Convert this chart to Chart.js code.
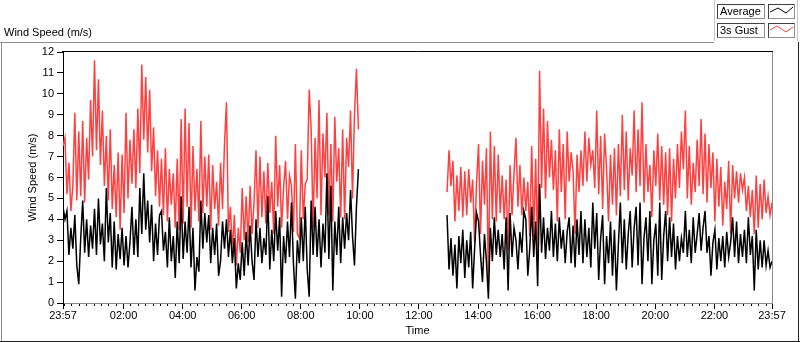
<!DOCTYPE html>
<html>
<head>
<meta charset="utf-8">
<script src="https://cdn.jsdelivr.net/npm/chart.js@4.4.1/dist/chart.umd.min.js"></script>
<style>
  body { margin: 0; background: #fff; font-family: "Liberation Sans", Arial, sans-serif; font-size: 11px; color: #000; }
  #wrap { position: relative; width: 800px; height: 342px; overflow: hidden; }
  #wrap canvas { position: absolute; left: 0; top: 0; }
  .line { position: absolute; }
  .panel-title { position: absolute; left: 4px; top: 26px; line-height: 13px; white-space: nowrap; }
  .legend { position: absolute; left: 714px; top: 0; width: 82px; height: 41px; border-left: 1px solid #c8c8c8; border-right: 1px solid #c8c8c8; }
  .lg-label { position: absolute; left: 2px; width: 44px; height: 13px; border: 1px solid #404040; border-right-color: #909090; border-bottom-color: #909090; line-height: 13px; padding-left: 2px; box-sizing: content-box; white-space: nowrap; }
  .lg-swatch { position: absolute; left: 53px; width: 25px; height: 13px; border: 1px solid #404040; border-right-color: #909090; border-bottom-color: #909090; }
</style>
</head>
<body>
<div id="wrap">
  <canvas id="line-chart" width="800" height="342"></canvas>
  <div class="line" style="left:0;top:42px;width:714px;height:1px;background:#8c8c8c"></div>
  <div class="line" style="left:1px;top:42px;width:1px;height:300px;background:#8c8c8c"></div>
  <div class="line" style="left:0;top:341px;width:800px;height:1px;background:#202020"></div>
  <div class="line" style="left:798px;top:42px;width:1px;height:300px;background:#202020"></div>
  <div class="panel-title">Wind Speed (m/s)</div>
  <div class="legend">
    <div class="lg-label" style="top:4px">Average</div>
    <div class="lg-swatch" style="top:4px"><svg width="25" height="13"><polyline points="1,7 9,3 17,8 24,2" fill="none" stroke="#000" stroke-width="1"/></svg></div>
    <div class="lg-label" style="top:23px">3s Gust</div>
    <div class="lg-swatch" style="top:23px"><svg width="25" height="13"><polyline points="1,6 8,2 17,8 24,3" fill="none" stroke="#ff4040" stroke-width="1"/></svg></div>
  </div>
</div>
<script>
// minutes after 23:57 of the previous day, one sample every 4 minutes
const sampleStep = 4;
const morningStart = 0;      // 23:57
const afternoonStart = 780;  // 12:57

const avgMorning = [
  4.6, 4.0, 4.4, 2.3, 3.6, 2.6, 4.2, 1.8, 0.9, 3.1,
  4.9, 2.4, 4.0, 2.2, 3.7, 2.6, 4.5, 2.3, 5.0, 2.8,
  3.8, 2.0, 5.5, 2.9, 4.3, 1.7, 3.9, 1.6, 3.3, 2.1,
  3.6, 1.8, 3.2, 1.7, 2.9, 4.6, 2.3, 4.0, 2.2, 5.5,
  3.3, 6.2, 3.5, 4.9, 2.9, 4.7, 2.0, 3.8, 2.3, 4.2,
  4.4, 2.5, 3.4, 1.7, 4.1, 2.0, 3.2, 1.2, 3.9, 1.9,
  5.1, 2.1, 3.9, 2.4, 4.6, 1.7, 3.6, 0.6, 2.2, 1.5,
  4.9, 2.6, 4.3, 2.9, 4.2, 1.9, 3.6, 2.3, 3.8, 1.3,
  2.0, 3.9, 2.6, 4.0, 2.2, 3.5, 1.9, 3.1, 0.7, 1.9,
  1.1, 2.9, 1.3, 3.4, 1.8, 3.7, 2.0, 1.1, 4.0, 2.2,
  3.6, 1.9, 3.1, 2.3, 5.1, 1.6, 3.5, 2.0, 4.4, 2.5,
  4.1, 0.3, 3.2, 1.9, 3.9, 2.2, 4.8, 1.9, 0.2, 3.0,
  1.9, 4.1, 2.0, 4.6, 1.6, 0.3, 4.9, 2.3, 4.6, 2.2,
  4.0, 1.7, 3.8, 2.4, 6.2, 2.1, 5.6, 0.6, 3.9, 2.3,
  4.6, 1.9, 4.1, 2.6, 4.3, 3.0, 5.4, 3.2, 1.8, 4.6, 6.4
];

const gustMorning = [
  7.5, 7.9, 5.2, 6.7, 4.4, 5.6, 9.1, 4.9, 8.2, 5.1,
  8.7, 4.8, 7.9, 5.9, 9.7, 7.0, 11.6, 7.3, 10.7, 6.6,
  9.2, 5.6, 8.0, 4.9, 8.3, 4.5, 6.6, 4.1, 7.2, 3.5,
  7.1, 4.3, 9.1, 5.0, 7.8, 5.7, 8.3, 5.5, 9.3, 6.2,
  11.4, 7.8, 10.8, 7.2, 10.2, 6.3, 8.4, 5.1, 7.3, 4.6,
  6.9, 4.2, 7.4, 3.9, 6.4, 4.7, 6.2, 3.6, 6.9, 3.5,
  8.8, 3.8, 9.3, 4.6, 8.6, 3.6, 7.5, 4.4, 6.4, 3.9,
  8.7, 4.3, 7.0, 4.6, 7.1, 3.5, 6.6, 4.5, 5.8, 3.7,
  6.7, 4.5, 7.6, 9.6, 3.4, 4.6, 2.5, 4.2, 1.8, 3.6,
  2.4, 5.5, 3.0, 5.1, 2.9, 5.6, 3.3, 4.8, 7.3, 3.6,
  7.0, 4.1, 6.3, 3.8, 6.7, 4.3, 5.8, 3.3, 8.0, 4.6,
  6.6, 3.6, 5.5, 6.8, 4.0, 6.1, 5.6, 3.4, 7.6, 3.3,
  3.1, 7.3, 4.0, 5.7, 5.9, 10.2, 8.3, 3.6, 7.9, 5.0,
  9.7, 4.2, 8.1, 6.0, 9.1, 4.2, 7.6, 3.9, 8.9, 5.8,
  7.4, 4.1, 8.3, 4.0, 7.9, 6.5, 9.2, 5.0, 9.0, 11.2, 8.3
];

const avgAfternoon = [
  4.2, 1.6, 3.1, 1.3, 2.8, 0.7, 3.2, 1.9, 3.5, 1.2,
  3.0, 1.7, 3.4, 0.7, 2.6, 4.3, 3.9, 2.3, 1.0, 3.3,
  2.0, 0.2, 3.6, 2.0, 4.1, 2.3, 3.5, 2.2, 3.3, 1.6,
  4.1, 0.6, 4.3, 2.2, 3.6, 3.0, 1.6, 3.4, 2.4, 4.4,
  4.0, 1.3, 2.6, 4.6, 2.2, 3.9, 0.8, 5.7, 2.4, 4.1,
  2.1, 3.6, 2.5, 4.4, 2.2, 3.8, 2.0, 4.1, 2.6, 3.5,
  1.9, 3.4, 4.1, 1.9, 3.7, 1.7, 4.0, 2.3, 4.4, 1.9,
  4.0, 2.2, 3.6, 1.7, 4.8, 2.6, 4.3, 1.1, 3.1, 4.2,
  0.9, 3.2, 1.9, 3.9, 1.3, 3.5, 0.6, 2.8, 4.8, 1.9,
  4.0, 1.6, 3.3, 4.4, 1.7, 3.6, 4.6, 1.8, 4.8, 0.9,
  3.1, 4.1, 2.0, 4.4, 0.9, 3.0, 3.8, 1.3, 4.8, 1.1,
  3.2, 4.4, 2.0, 4.1, 2.2, 3.8, 1.6, 3.2, 2.0, 3.1,
  2.4, 4.4, 2.2, 3.5, 1.9, 4.1, 2.4, 3.3, 4.3, 2.5,
  3.6, 4.4, 2.4, 3.2, 1.3, 2.9, 3.5, 1.6, 3.1, 2.0,
  3.2, 1.7, 3.4, 2.2, 2.9, 4.1, 2.2, 3.9, 1.9, 3.3,
  2.2, 3.5, 1.9, 4.1, 2.3, 3.2, 0.6, 3.5, 1.6, 3.0,
  1.7, 3.0, 1.8, 2.5, 1.7, 2.0
];

const gustAfternoon = [
  5.3, 7.3, 5.6, 6.8, 3.9, 6.1, 4.4, 6.5, 4.1, 6.3,
  4.2, 6.4, 4.8, 5.9, 2.9, 5.8, 7.6, 3.3, 6.8, 4.7,
  7.4, 1.1, 8.2, 4.0, 7.5, 3.9, 7.1, 4.3, 6.1, 4.0,
  5.9, 2.5, 6.6, 4.2, 6.2, 7.9, 4.6, 6.6, 4.2, 6.0,
  4.4, 5.8, 3.2, 7.5, 3.1, 6.9, 2.3, 11.1, 5.5, 9.3,
  5.0, 8.7, 6.0, 7.8, 5.4, 7.3, 3.9, 8.3, 5.3, 7.6,
  4.0, 8.2, 5.8, 7.2, 6.3, 3.3, 7.1, 5.3, 7.3, 5.6,
  8.2, 5.8, 7.9, 6.6, 7.3, 5.5, 9.2, 5.2, 8.0, 4.5,
  8.1, 6.4, 3.9, 7.1, 4.7, 7.4, 4.2, 7.6, 5.1, 9.0,
  5.4, 8.2, 4.9, 7.4, 6.1, 9.2, 5.3, 8.3, 5.6, 9.6,
  4.8, 7.6, 5.3, 6.6, 4.1, 7.3, 5.6, 8.1, 4.9, 7.5,
  4.7, 7.2, 4.2, 7.4, 3.9, 6.9, 5.0, 7.6, 5.5, 8.2,
  6.4, 9.2, 5.0, 7.5, 4.7, 6.7, 5.3, 7.8, 5.6, 8.8,
  5.2, 8.1, 4.8, 7.6, 5.5, 7.2, 3.9, 6.9, 4.6, 6.5,
  3.7, 5.8, 4.5, 6.8, 3.3, 6.6, 5.0, 6.3, 4.8, 6.2,
  5.4, 6.0, 4.4, 5.6, 4.1, 5.4, 3.3, 6.1, 3.6, 5.7,
  4.0, 5.9, 4.3, 5.1, 4.2, 4.8
];

const tickMinutes = [0, 123, 243, 363, 483, 603, 723, 843, 963, 1083, 1203, 1323, 1440];
const tickLabels = ["23:57", "02:00", "04:00", "06:00", "08:00", "10:00", "12:00",
  "14:00", "16:00", "18:00", "20:00", "22:00", "23:57"];

const toPoints = (arr, start) => arr.map((v, i) => ({ x: start + i * sampleStep, y: v }));

// null point splits the morning and afternoon records
const joinDay = (morning, afternoon) =>
  toPoints(morning, morningStart)
    .concat([{ x: 690, y: null }])
    .concat(toPoints(afternoon, afternoonStart));

Chart.defaults.font.family = "'Liberation Sans', Arial, sans-serif";
Chart.defaults.font.size = 11;
Chart.defaults.color = "#000";

// top and right edges of the plot box
const plotFrame = {
  id: "plotFrame",
  afterDraw(chart) {
    const { ctx, chartArea } = chart;
    ctx.save();
    ctx.lineWidth = 1;
    ctx.strokeStyle = "#000";
    ctx.beginPath();
    ctx.moveTo(chartArea.left - 1, chartArea.top - 0.5);
    ctx.lineTo(chartArea.right + 1, chartArea.top - 0.5);
    ctx.stroke();
    ctx.strokeStyle = "#8c8c8c";
    ctx.beginPath();
    ctx.moveTo(chartArea.right + 0.5, chartArea.top);
    ctx.lineTo(chartArea.right + 0.5, chartArea.bottom);
    ctx.stroke();
    ctx.restore();
  },
};

new Chart(document.getElementById("line-chart"), {
  type: "line",
  data: {
    datasets: [
      {
        label: "Average",
        data: joinDay(avgMorning, avgAfternoon),
        borderColor: "#000",
        borderWidth: 1.5,
        pointRadius: 0,
        tension: 0,
        spanGaps: false,
      },
      {
        label: "3s Gust",
        data: joinDay(gustMorning, gustAfternoon),
        borderColor: "#ff4040",
        borderWidth: 1.5,
        pointRadius: 0,
        tension: 0,
        spanGaps: false,
      },
    ],
  },
  plugins: [plotFrame],
  options: {
    responsive: false,
    animation: false,
    devicePixelRatio: 1,
    layout: { padding: { left: 0, top: 52, right: 28, bottom: 0 } },
    plugins: { legend: { display: false }, tooltip: { enabled: false } },
    scales: {
      x: {
        type: "linear",
        position: "bottom",
        weight: 1,
        min: 0,
        max: 1440,
        afterBuildTicks: (scale) => { scale.ticks = tickMinutes.map((v) => ({ value: v })); },
        afterFit: (scale) => { scale.height = 39; },
        ticks: {
          autoSkip: false,
          maxRotation: 0,
          padding: 0,
          callback: (value, index) => tickLabels[index],
        },
        grid: { drawOnChartArea: false, tickLength: 6, color: "#000" },
        border: { color: "#8c8c8c" },
        title: { display: true, text: "Time", padding: { top: 0, bottom: 4 } },
      },
      xMinor: {
        type: "linear",
        position: "bottom",
        weight: 0,
        min: 0,
        max: 1440,
        afterBuildTicks: (scale) => {
          const ticks = [];
          for (let m = 3; m < 1440; m += 15) ticks.push({ value: m });
          scale.ticks = ticks;
        },
        afterFit: (scale) => { scale.height = 0; },
        ticks: { display: false },
        grid: { drawOnChartArea: false, tickLength: 3, color: "#000" },
        border: { display: false },
      },
      y: {
        min: 0,
        max: 12,
        afterFit: (scale) => { scale.width = 63; },
        ticks: { stepSize: 1, padding: 3 },
        grid: { drawOnChartArea: false, tickLength: 6, color: "#000" },
        border: { color: "#000" },
        title: { display: true, text: "Wind Speed (m/s)", padding: { top: 26, bottom: 0 } },
      },
    },
  },
});
</script>
</body>
</html>
